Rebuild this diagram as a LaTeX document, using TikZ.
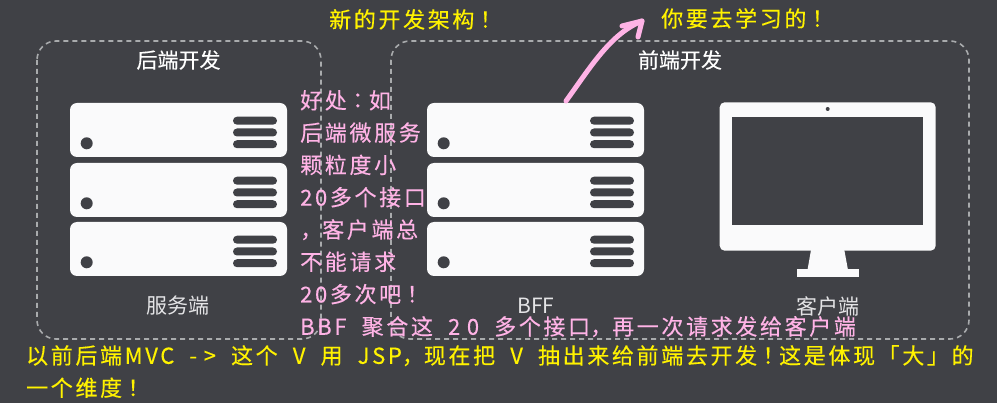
\documentclass[tikz,border=0pt]{standalone}
\usepackage{fontspec}
\setmainfont{Noto Sans CJK SC}
\newfontfamily\annotfont[LetterSpace=12,FakeBold=0.3,WordSpace=2]{Noto Sans CJK SC}
\newfontfamily\annotpunct[LetterSpace=12,FakeBold=0.3]{Noto Sans CJK JP}
\newfontfamily\annotwide[LetterSpace=30,FakeBold=0.3]{Noto Sans CJK SC}
\newfontfamily\titlefont[FakeBold=0.25]{Noto Sans CJK SC}
\newcommand{\fwbang}{{\annotpunct\symbol{"FF01}}}
\newcommand{\fwcomma}{{\annotpunct\symbol{"FF0C}}}
\newcommand{\fwcolon}{{\annotpunct\symbol{"FF1A}}}
\newcommand{\widelatin}[1]{{\annotwide #1}}
\definecolor{bgdark}{HTML}{404146}
\definecolor{cardwhite}{HTML}{FAFAFB}
\definecolor{dashgrey}{HTML}{A9ABAD}
\definecolor{pinkann}{HTML}{FFB3E6}
\definecolor{yellowann}{HTML}{FFF200}
\definecolor{labelgrey}{HTML}{E4E4E6}
\tikzset{
  groupbox/.style={draw=dashgrey,line width=1.6pt,dash pattern=on 5pt off 4pt,rounded corners=19pt},
  serverbox/.style={fill=cardwhite,rounded corners=7pt,minimum width=217pt,minimum height=54pt,inner sep=0pt,outer sep=0pt},
  serverbar/.style={fill=bgdark,rounded corners=4pt},
  titlelabel/.style={font=\fontsize{21}{25}\selectfont\titlefont,text=white,inner sep=0pt},
  itemlabel/.style={font=\fontsize{21}{25}\selectfont,text=labelgrey,inner sep=0pt},
  pinknote/.style={font=\fontsize{22}{32.3}\selectfont\annotfont,text=pinkann,inner sep=0pt,align=left,anchor=north west},
  yellownote/.style={font=\fontsize{22}{32.3}\selectfont\annotfont,text=yellowann,inner sep=0pt,align=left,anchor=north west},
  pinkstroke/.style={draw=pinkann,line width=5pt,line cap=round,line join=round}
}
\newcommand{\serverunit}[3]{%
  \node[serverbox] (#1) at (#2+108.5,#3+27) {};
  \fill[bgdark] (#2+16.7,#3+40.3) circle (6pt);
  \foreach \barY in {17.7,29.5,41.2}{
    \fill[serverbar] (#2+163,#3+\barY-4) rectangle (#2+207,#3+\barY+4);
  }
}
\begin{document}
\begin{tikzpicture}[x=1pt,y=-1pt]
\useasboundingbox (0,0) rectangle (997,403);
\fill[bgdark] (0,0) rectangle (997,403);
% dashed groups
\draw[groupbox] (37,41) rectangle (321,339);
\draw[groupbox] (391,41) rectangle (969,339);
% servers
\serverunit{backA}{70}{103}
\serverunit{backB}{70}{163}
\serverunit{backC}{70}{222}
\serverunit{bffA}{427}{103}
\serverunit{bffB}{427}{163}
\serverunit{bffC}{427}{222}
% monitor
\fill[cardwhite,rounded corners=5pt] (719.7,102.3) rectangle (935.7,250.7);
\fill[bgdark] (732.3,116.7) rectangle (923.3,225.3);
\fill[bgdark] (827.7,109) circle (2pt);
\fill[cardwhite] (811,250) -- (844.3,250) -- (848,270) -- (807.5,270) -- cycle;
\fill[cardwhite] (796.7,269.5) rectangle (858.7,276.7);
% labels
\node[titlelabel] (backTitle) at (178.5,60) {后端开发};
\node[titlelabel] (frontTitle) at (680,60) {前端开发};
\node[itemlabel] (serverLabel) at (178,306) {服务端};
\node[itemlabel] (bffLabel) at (536,306) {BFF};
\node[itemlabel] (clientLabel) at (828,306) {客户端};
% arrow
\coordinate (arrowStart) at (566,101);
\coordinate (arrowEnd) at (642,21);
\coordinate (barbA) at (622,26);
\coordinate (barbB) at (638,37);
\draw[pinkstroke] (arrowStart) .. controls (590,68) and (610,34) .. (arrowEnd);
\draw[pinkstroke] (barbA) -- (arrowEnd) -- (barbB);
% notes
\node[yellownote] (noteNew) at (329,9) {新的开发架构\fwbang};
\node[yellownote] (noteLearn) at (661,8) {你要去学习的\fwbang};
\node[pinknote] (noteBenefit) at (300,90) {好处\fwcolon 如\\后端微服务\\颗粒度小\\20多个接口\\\fwcomma 客户端总\\不能请求\\20多次吧\fwbang\\BBF 聚合这 \widelatin{20} 多个接口\fwcomma 再一次请求发给客户端};
\node[yellownote] (noteMvc) at (26,345) {以前后端MVC \widelatin{->} 这个 V 用 JSP\fwcomma 现在把 V 抽出来给前端去开发\fwbang 这是体现「大」的\\一个维度\fwbang};
\end{tikzpicture}
\end{document}
